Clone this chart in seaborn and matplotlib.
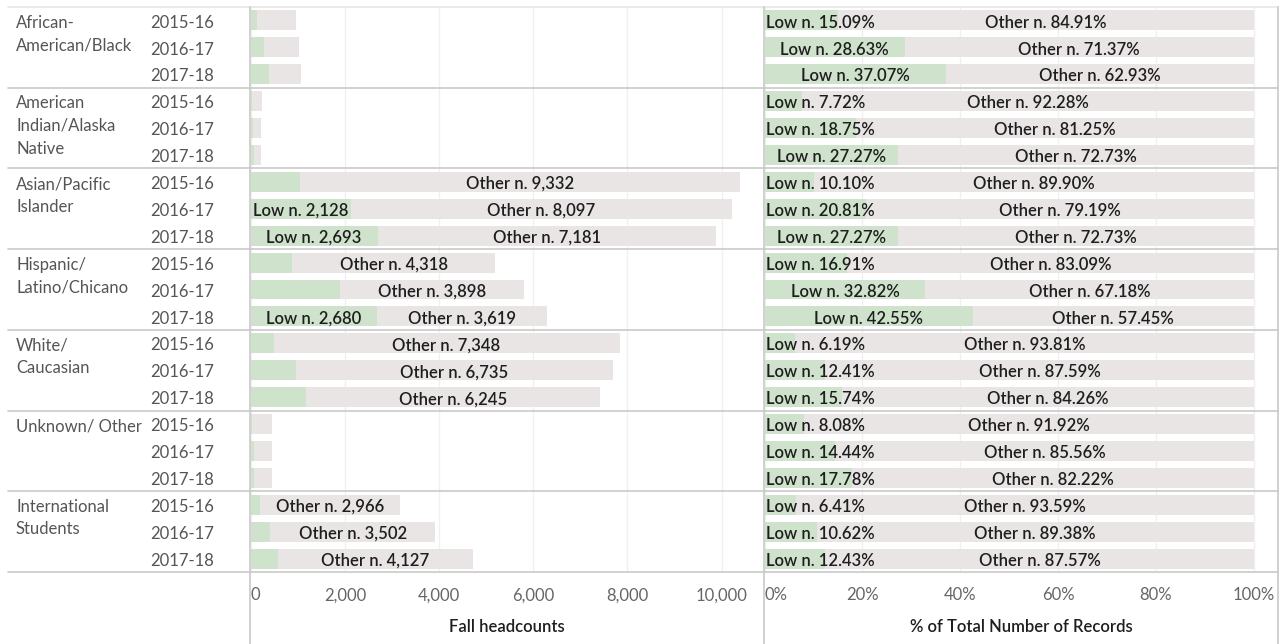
import numpy as np
import pandas as pd
import seaborn as sns
import matplotlib.pyplot as plt
from matplotlib.lines import Line2D
from matplotlib.ticker import FuncFormatter

# data
groups = ["African-\nAmerican/Black", "American\nIndian/Alaska\nNative", "Asian/Pacific\nIslander",
          "Hispanic/\nLatino/Chicano", "White/\nCaucasian", "Unknown/ Other", "International\nStudents"]
years = ["2015-16", "2016-17", "2017-18"]
low_n = [144, 291, 397, 19, 42, 60, 1048, 2128, 2693, 879, 1904, 2680,
         485, 954, 1167, 37, 65, 80, 203, 416, 586]
other_n = [811, 724, 673, 227, 182, 160, 9332, 8097, 7181, 4318, 3898, 3619,
           7348, 6735, 6245, 421, 385, 370, 2966, 3502, 4127]
low_pct = [15.09, 28.63, 37.07, 7.72, 18.75, 27.27, 10.10, 20.81, 27.27, 16.91, 32.82, 42.55,
           6.19, 12.41, 15.74, 8.08, 14.44, 17.78, 6.41, 10.62, 12.43]
other_pct = [84.91, 71.37, 62.93, 92.28, 81.25, 72.73, 89.90, 79.19, 72.73, 83.09, 67.18, 57.45,
             93.81, 87.59, 84.26, 91.92, 85.56, 82.22, 93.59, 89.38, 87.57]

GREEN = "#cfe3cc"
GREY = "#e9e5e4"
LINE = "#c9c9c9"
TXT = "#1e1e1e"
FS = 12

sns.set_style("white")
plt.rcParams["font.family"] = ["Lato", "DejaVu Sans"]

df = pd.DataFrame({
    "row": [f"{g}|{y}" for g in groups for y in years],
    "group": [g for g in groups for y in years],
    "year": [y for g in groups for y in years],
    "low": low_n, "other": other_n,
    "low_pct": low_pct, "other_pct": other_pct,
})
df["total"] = df["low"] + df["other"]
df["pct_total"] = df["low_pct"] + df["other_pct"]

W, H = 1281, 644
fig = plt.figure(figsize=(W / 100, H / 100), dpi=100)


def box(x0, x1, y0=7, y1=572):
    return [x0 / W, 1 - y1 / H, (x1 - x0) / W, (y1 - y0) / H]


ax_lab = fig.add_axes(box(8, 250))
ax_l = fig.add_axes(box(250, 764))
ax_r = fig.add_axes(box(764, 1278))

# stacked bars: full bar in grey, low part in green on top
kw = dict(y="row", saturation=1, width=0.74, orient="h", linewidth=0)
sns.barplot(data=df, x="total", color=GREY, ax=ax_l, **kw)
sns.barplot(data=df, x="low", color=GREEN, ax=ax_l, **kw)
sns.barplot(data=df, x="pct_total", color=GREY, ax=ax_r, **kw)
sns.barplot(data=df, x="low_pct", color=GREEN, ax=ax_r, **kw)

n = len(df)
ax_l.set_xlim(-15, 10900)
ax_r.set_xlim(-0.15, 105)
for ax in (ax_l, ax_r, ax_lab):
    ax.set_ylim(n - 0.5, -0.5)
    ax.set_ylabel("")
    ax.set_yticks([])
    for s in ax.spines.values():
        s.set_visible(False)
    ax.patch.set_alpha(0)

ax_lab.set_xlim(0, 242)
ax_lab.set_xticks([])

ax_l.set_xticks(range(0, 10001, 2000))
ax_l.xaxis.set_major_formatter(FuncFormatter(lambda v, p: f"{int(v):,}"))
ax_r.set_xticks(range(0, 101, 20))
ax_r.xaxis.set_major_formatter(FuncFormatter(lambda v, p: f"{int(v)}%"))
for ax, lab in ((ax_l, "Fall headcounts"), (ax_r, "% of Total Number of Records")):
    ax.grid(axis="x", color="#f0f0f0", linewidth=1)
    ax.set_axisbelow(True)
    ax.tick_params(axis="x", length=0, pad=11, labelsize=FS, labelcolor="#666666")
    ax.set_xlabel(lab, fontsize=FS, color=TXT, labelpad=11, fontweight="semibold")
    ax.get_xticklabels()[0].set_ha("left")

# row labels
dy = 0.08
for i, row in df.iterrows():
    ax_lab.text(142, i + dy, row["year"], va="center", ha="left", fontsize=FS, color="#555555")
for k, g in enumerate(groups):
    for j, line in enumerate(g.split("\n")):
        ax_lab.text(8, 3 * k + j * 0.84 + dy, line, va="center", ha="left", fontsize=FS, color="#555555")

fig.canvas.draw()
rend = fig.canvas.get_renderer()


def px_width(ax, a, b):
    return ax.transData.transform((b, 0))[0] - ax.transData.transform((a, 0))[0]


lab_kw = dict(ha="center", va="center", fontsize=FS, color=TXT, fontweight="semibold")

# left panel labels only where they fit in the segment
for i, row in df.iterrows():
    for a, b, s in ((0, row["low"], f"Low n. {row['low']:,}"),
                    (row["low"], row["total"], f"Other n. {row['other']:,}")):
        t = ax_l.text((a + b) / 2, i + dy, s, **lab_kw)
        if t.get_window_extent(rend).width > px_width(ax_l, a, b):
            t.remove()

# right panel labels, low label pushed inside the panel edge
x0_disp = ax_r.transData.transform((0, 0))[0]
for i, row in df.iterrows():
    t = ax_r.text(row["low_pct"] / 2, i + dy, f"Low n. {row['low_pct']:.2f}%", **lab_kw)
    w = t.get_window_extent(rend).width
    cx = ax_r.transData.transform((row["low_pct"] / 2, 0))[0]
    if cx - w / 2 < x0_disp + 1:
        t.set_x(ax_r.transData.inverted().transform((x0_disp + 1 + w / 2, 0))[0])
    ax_r.text(row["low_pct"] + row["other_pct"] / 2, i + dy, f"Other n. {row['other_pct']:.2f}%", **lab_kw)


# frame lines in pixel space
def hline(y, x0=8, x1=1278, c=LINE):
    fig.add_artist(Line2D([x0 / W, x1 / W], [1 - y / H, 1 - y / H], color=c, linewidth=1.2))


def vline(x, y0=7, y1=644, c=LINE):
    fig.add_artist(Line2D([x / W, x / W], [1 - y0 / H, 1 - y1 / H], color=c, linewidth=1.2))


hline(7, c="#e6e6e6")
for k in range(1, len(groups) + 1):
    hline(7 + k * 3 * (565 / n))
vline(250)
vline(764)
vline(1278)

fig.savefig("out.png", dpi=100)
